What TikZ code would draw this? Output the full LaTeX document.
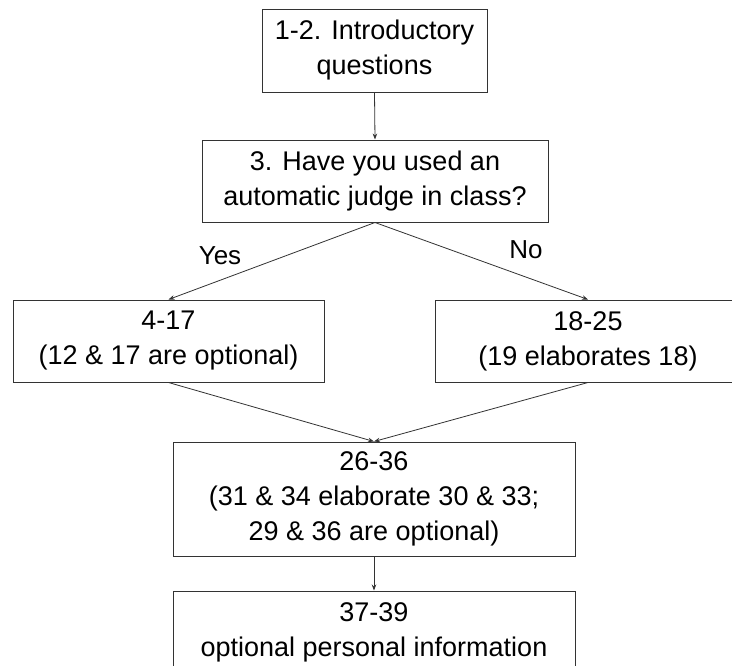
\documentclass[tikz,border=0pt]{standalone}
\usepackage{fontspec}
\setmainfont{Liberation Sans}
\usetikzlibrary{arrows.meta}
\begin{document}
\begin{tikzpicture}[x=1pt,y=-1pt,
  box/.style={draw=black!80, line width=1pt, inner sep=0pt, align=center,
    font=\fontsize{27}{35}\selectfont},
  arr/.style={draw=black!80, line width=0.8pt, -{Stealth[length=6pt,width=4.5pt]}},
  lbl/.style={inner sep=0pt, font=\fontsize{26}{30}\selectfont}]
\fill[white] (0,0) rectangle (732,665);
\useasboundingbox (0,0) rectangle (732,665);
\clip (0,0) rectangle (732,665);
\node[box, minimum width=225pt, minimum height=83pt] (b1) at (374.5,50.5) {1-2. Introductory\\questions};
\node[box, minimum width=346pt, minimum height=82pt] (b2) at (375,181) {3. Have you used an\\automatic judge in class?};
\node[box, minimum width=311pt, minimum height=82pt] (b3) at (168.5,341) {4-17\\(12 \& 17 are optional)};
\node[box, minimum width=306pt, minimum height=82pt] (b4) at (588,341) {18-25\\(19 elaborates 18)};
\node[box, minimum width=402pt, minimum height=114pt] (b5) at (374,499) {26-36\\(31 \& 34 elaborate 30 \& 33;\\29 \& 36 are optional)};
\node[box, minimum width=402pt, minimum height=83pt] (b6) at (374,632.5) {37-39\\optional personal information};
\node[lbl] (yes) at (220,256) {Yes};
\node[lbl] (no) at (526,250) {No};
\draw[arr] (b1.south) -- (b2.north);
\draw[arr] (b2.south) -- (b3.north);
\draw[arr] (b2.south) -- (b4.north);
\draw[arr] (b3.south) -- (b5.north);
\draw[arr] (b4.south) -- (b5.north);
\draw[arr] (b5.south) -- (b6.north);
\end{tikzpicture}
\end{document}
